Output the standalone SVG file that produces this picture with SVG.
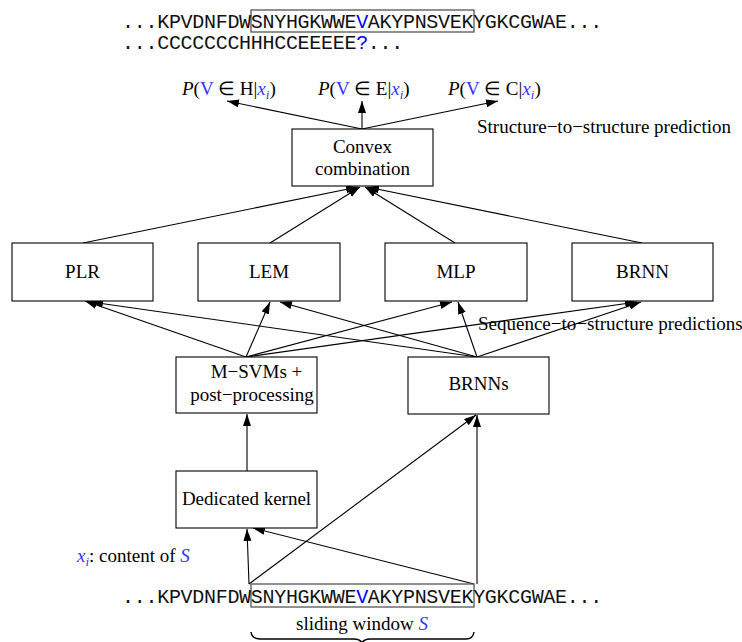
<svg xmlns="http://www.w3.org/2000/svg" width="742" height="642" viewBox="0 0 742 642">
<style>
.box{fill:#fff;stroke:#000;stroke-width:1.1}
.sbox{fill:none;stroke:#555;stroke-width:1.3}
.t{font-family:"Liberation Serif","Times New Roman",serif;font-size:19px;fill:#000}
.c{text-anchor:middle}
.mono{font-family:"Liberation Mono","Courier New",monospace;font-size:20px;letter-spacing:-0.3px;fill:#111}
.blue{fill:#0000ff}
.mb{fill:#3535ff}
.it{font-style:italic}
.ln{fill:none;stroke:#000;stroke-width:1.1;marker-end:url(#ah)}
</style>
<defs>
<marker id="ah" markerUnits="userSpaceOnUse" markerWidth="13" markerHeight="9" refX="12" refY="4" orient="auto">
<path d="M0,0 L12,4 L0,8 z" fill="#000"/>
</marker>
</defs>
<rect width="742" height="642" fill="#fff"/>

<g id="top-sequence">
<rect class="sbox" x="251" y="10" width="223" height="22"/>
<text class="mono" x="122.1" y="28">...KPVDNFDWSNYHGKWWE<tspan class="blue">V</tspan>AKYPNSVEKYGKCGWAE...</text>
<text class="mono" x="122.1" y="49">...CCCCCCCHHHCCEEEEE<tspan class="blue">?</tspan>...</text>
</g>

<g id="labels-top">
<text class="t" x="182" y="95"><tspan class="it">P</tspan>(<tspan class="mb">V</tspan> ∈ H|<tspan class="it mb">x</tspan><tspan class="it mb" font-size="13" dy="4">i</tspan><tspan dy="-4">)</tspan></text>
<text class="t" x="318" y="95"><tspan class="it">P</tspan>(<tspan class="mb">V</tspan> ∈ E|<tspan class="it mb">x</tspan><tspan class="it mb" font-size="13" dy="4">i</tspan><tspan dy="-4">)</tspan></text>
<text class="t" x="448" y="95"><tspan class="it">P</tspan>(<tspan class="mb">V</tspan> ∈ C|<tspan class="it mb">x</tspan><tspan class="it mb" font-size="13" dy="4">i</tspan><tspan dy="-4">)</tspan></text>
<text class="t" x="477" y="133">Structure−to−structure prediction</text>
<text class="t" x="478" y="330">Sequence−to−structure predictions</text>
</g>

<g id="connectors">
<line class="ln" x1="362" y1="129" x2="227" y2="101"/>
<line class="ln" x1="362" y1="129" x2="362" y2="101"/>
<line class="ln" x1="362" y1="129" x2="498" y2="101"/>
<line class="ln" x1="83" y1="243" x2="358" y2="187"/>
<line class="ln" x1="270" y1="243" x2="360" y2="187"/>
<line class="ln" x1="455" y1="243" x2="365" y2="187"/>
<line class="ln" x1="642" y1="243" x2="367" y2="187"/>
<line class="ln" x1="246" y1="357" x2="85" y2="301"/>
<line class="ln" x1="246" y1="357" x2="270" y2="302"/>
<line class="ln" x1="246" y1="357" x2="452" y2="302"/>
<line class="ln" x1="246" y1="357" x2="637" y2="302"/>
<line class="ln" x1="477" y1="357" x2="91" y2="302"/>
<line class="ln" x1="477" y1="357" x2="280" y2="302"/>
<line class="ln" x1="477" y1="357" x2="458" y2="302"/>
<line class="ln" x1="477" y1="357" x2="641" y2="302"/>
<line class="ln" x1="247" y1="471" x2="247" y2="414"/>
<line class="ln" x1="249" y1="584" x2="247" y2="529"/>
<line class="ln" x1="474" y1="584" x2="253" y2="528"/>
<line class="ln" x1="249" y1="584" x2="476" y2="415"/>
<line class="ln" x1="477" y1="584" x2="477" y2="415"/>
</g>

<g id="node-convex">
<rect class="box" x="292" y="129" width="141" height="57"/>
<text class="t c" x="362.5" y="153">Convex</text>
<text class="t c" x="362.5" y="175">combination</text>
</g>
<g id="node-plr">
<rect class="box" x="12" y="243" width="141" height="58"/>
<text class="t c" x="82.5" y="278">PLR</text>
</g>
<g id="node-lem">
<rect class="box" x="198" y="243" width="142" height="58"/>
<text class="t c" x="269" y="278">LEM</text>
</g>
<g id="node-mlp">
<rect class="box" x="385" y="243" width="142" height="58"/>
<text class="t c" x="456" y="278">MLP</text>
</g>
<g id="node-brnn">
<rect class="box" x="572" y="243" width="141" height="58"/>
<text class="t c" x="642.5" y="278">BRNN</text>
</g>
<g id="node-msvm">
<rect class="box" x="176" y="357" width="141" height="56"/>
<text class="t c" x="256.5" y="378">M−SVMs +</text>
<text class="t c" x="252" y="401">post−processing</text>
</g>
<g id="node-brnns">
<rect class="box" x="408" y="357" width="141" height="57"/>
<text class="t c" x="478.5" y="390">BRNNs</text>
</g>
<g id="node-kernel">
<rect class="box" x="176" y="471" width="141" height="57"/>
<text class="t c" x="246.5" y="505">Dedicated kernel</text>
</g>

<g id="bottom-sequence">
<text class="t" x="77" y="562"><tspan class="it mb">x</tspan><tspan class="it mb" font-size="13" dy="4">i</tspan><tspan dy="-4">: content of </tspan><tspan class="it mb">S</tspan></text>
<rect class="sbox" x="251" y="584" width="223" height="23"/>
<text class="mono" x="122.1" y="603">...KPVDNFDWSNYHGKWWE<tspan class="blue">V</tspan>AKYPNSVEKYGKCGWAE...</text>
<text class="t c" x="362" y="630">sliding window <tspan class="it mb">S</tspan></text>
<path d="M251,632 Q252,639 260,639 L354,639 Q360,639 362,643 Q364,639 370,639 L466,639 Q473,639 474,632" fill="none" stroke="#000" stroke-width="1.5"/>
</g>
</svg>
